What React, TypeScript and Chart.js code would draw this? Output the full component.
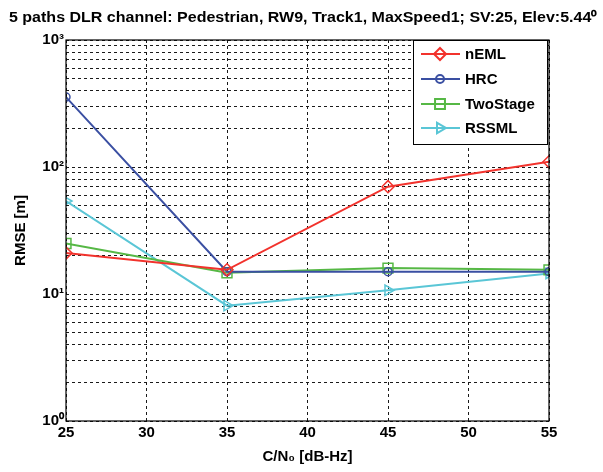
import React, { useEffect, useRef } from 'react';
import { Chart, registerables } from 'chart.js';

Chart.register(...registerables);

// ---- data ----
const cn0 = [25, 35, 45, 55];
const nEML = [21, 15.5, 70, 110];
const HRC = [355, 15, 15, 15];
const TwoStage = [25, 14.7, 16, 15.5];
const RSSML = [54, 8.1, 10.7, 14.5];

const seriesNames = ['nEML', 'HRC', 'TwoStage', 'RSSML'];
const seriesValues = [nEML, HRC, TwoStage, RSSML];
const seriesColors = ['#f2322c', '#3a4fa2', '#56b845', '#5ac6d6'];
const seriesMarkers = ['rectRot', 'circle', 'rect', 'triangle'];
const seriesMarkerRadius = [6, 4, 7, 6];
const seriesMarkerRotation = [0, 0, 0, 90];

const xTicks = [25, 30, 35, 40, 45, 50, 55];
const yDecades = [1, 10, 100, 1000];
const yTickLabels = ['10\u2070', '10\u00b9', '10\u00b2', '10\u00b3'];

const titleText = '5 paths DLR channel: Pedestrian, RW9, Track1, MaxSpeed1; SV:25, Elev:5.44\u2070';
const xTitle = 'C/N\u2080 [dB-Hz]';
const yTitle = 'RMSE [m]';

const FONT = '"Liberation Sans", Arial, sans-serif';

function drawMarker(ctx: CanvasRenderingContext2D, style: string, x: number, y: number, r: number, rotDeg: number) {
  ctx.beginPath();
  if (style === 'circle') {
    ctx.arc(x, y, r, 0, Math.PI * 2);
  } else if (style === 'rect') {
    const s = r * Math.SQRT1_2;
    ctx.rect(x - s, y - s, 2 * s, 2 * s);
  } else if (style === 'rectRot') {
    ctx.moveTo(x, y - r);
    ctx.lineTo(x + r, y);
    ctx.lineTo(x, y + r);
    ctx.lineTo(x - r, y);
    ctx.closePath();
  } else if (style === 'triangle') {
    let rad = (rotDeg * Math.PI) / 180;
    ctx.moveTo(x + Math.sin(rad) * r, y - Math.cos(rad) * r);
    rad += (2 * Math.PI) / 3;
    ctx.lineTo(x + Math.sin(rad) * r, y - Math.cos(rad) * r);
    rad += (2 * Math.PI) / 3;
    ctx.lineTo(x + Math.sin(rad) * r, y - Math.cos(rad) * r);
    ctx.closePath();
  }
  ctx.stroke();
}

const decorPlugin = {
  id: 'decor',
  afterDraw(chart: any) {
    const ctx: CanvasRenderingContext2D = chart.ctx;
    const a = chart.chartArea;
    ctx.save();
    // frame
    ctx.strokeStyle = '#000';
    ctx.lineWidth = 1.2;
    ctx.setLineDash([]);
    ctx.strokeRect(a.left, a.top, a.right - a.left, a.bottom - a.top);

    // title
    ctx.font = `bold 14px ${FONT}`;
    ctx.fillStyle = '#000';
    ctx.textBaseline = 'alphabetic';
    ctx.textAlign = 'center';
    const w = ctx.measureText(titleText).width;
    const target = 588;
    ctx.save();
    ctx.translate(303, 22);
    ctx.scale(target / w, 1);
    ctx.fillText(titleText, 0, 0);
    ctx.restore();

    // legend
    const bx = 413, by = 40, bw = 134, bh = 104;
    ctx.fillStyle = '#fff';
    ctx.fillRect(bx, by, bw, bh);
    ctx.strokeStyle = '#000';
    ctx.lineWidth = 1;
    ctx.strokeRect(bx + 0.5, by + 0.5, bw, bh);
    const rows = [54, 79, 104, 128];
    ctx.font = `bold 15px ${FONT}`;
    ctx.textAlign = 'left';
    ctx.textBaseline = 'middle';
    seriesNames.forEach((name, i) => {
      const y = rows[i];
      ctx.strokeStyle = seriesColors[i];
      ctx.lineWidth = 2;
      ctx.beginPath();
      ctx.moveTo(421, y);
      ctx.lineTo(460, y);
      ctx.stroke();
      drawMarker(ctx, seriesMarkers[i], 440, y, seriesMarkerRadius[i], seriesMarkerRotation[i]);
      ctx.fillStyle = '#000';
      ctx.fillText(name, 465, y + 1);
    });
    ctx.restore();
  },
};

export default function App() {
  const ref = useRef<HTMLCanvasElement>(null);

  useEffect(() => {
    if (!ref.current) return;
    const datasets = seriesNames.map((name, i) => ({
      label: name,
      data: cn0.map((x, j) => ({ x, y: seriesValues[i][j] })),
      borderColor: seriesColors[i],
      backgroundColor: 'rgba(0,0,0,0)',
      pointBackgroundColor: 'rgba(0,0,0,0)',
      pointBorderColor: seriesColors[i],
      pointStyle: seriesMarkers[i] as any,
      pointRadius: seriesMarkerRadius[i],
      pointRotation: seriesMarkerRotation[i],
      pointBorderWidth: 1.5,
      borderWidth: 2,
      tension: 0,
      fill: false,
    }));

    const chart = new Chart(ref.current, {
      type: 'line',
      data: { datasets },
      options: {
        animation: false,
        responsive: false,
        devicePixelRatio: 1,
        layout: { padding: { left: 0, right: 54, top: 40, bottom: 0 } },
        plugins: {
          legend: { display: false },
          title: { display: false },
          tooltip: { enabled: false },
        },
        scales: {
          x: {
            type: 'linear',
            min: 25,
            max: 55,
            afterBuildTicks: (scale: any) => {
              scale.ticks = xTicks.map((v) => ({ value: v }));
            },
            afterFit: (scale: any) => {
              scale.height = 51;
            },
            grid: { color: '#1a1a1a', lineWidth: 1, drawTicks: false },
            border: { display: false, dash: [3, 3] },
            ticks: {
              color: '#000',
              padding: 3,
              font: { family: FONT, size: 15, weight: 'bold' },
              maxRotation: 0,
              autoSkip: false,
            },
            title: {
              display: true,
              text: xTitle,
              color: '#000',
              font: { family: FONT, size: 15, weight: 'bold' },
              padding: { top: 0, bottom: 6 },
            },
          },
          y: {
            type: 'logarithmic',
            min: 1,
            max: 1000,
            afterBuildTicks: (scale: any) => {
              const t: { value: number }[] = [];
              for (let d = 0; d < yDecades.length; d++) {
                const base = yDecades[d];
                if (d === yDecades.length - 1) {
                  t.push({ value: base });
                } else {
                  for (let k = 1; k <= 9; k++) t.push({ value: base * k });
                }
              }
              scale.ticks = t;
            },
            afterFit: (scale: any) => {
              scale.width = 66;
            },
            grid: { color: '#1a1a1a', lineWidth: 1, drawTicks: false },
            border: { display: false, dash: [3, 3] },
            ticks: {
              color: '#000',
              padding: 2,
              autoSkip: false,
              font: { family: FONT, size: 15, weight: 'bold' },
              callback: (value: any) => {
                const idx = yDecades.findIndex((d) => Math.abs(d - Number(value)) < 1e-9);
                return idx >= 0 ? yTickLabels[idx] : '';
              },
            },
            title: {
              display: true,
              text: yTitle,
              color: '#000',
              font: { family: FONT, size: 15, weight: 'bold' },
              padding: { top: 12, bottom: 0 },
            },
          },
        },
      },
      plugins: [decorPlugin],
    });
    return () => chart.destroy();
  }, []);

  return (
    <div style={{ position: 'absolute', left: 0, top: 0, width: 603, height: 472, background: '#fff' }}>
      <canvas ref={ref} width={603} height={472} style={{ display: 'block' }} />
    </div>
  );
}
